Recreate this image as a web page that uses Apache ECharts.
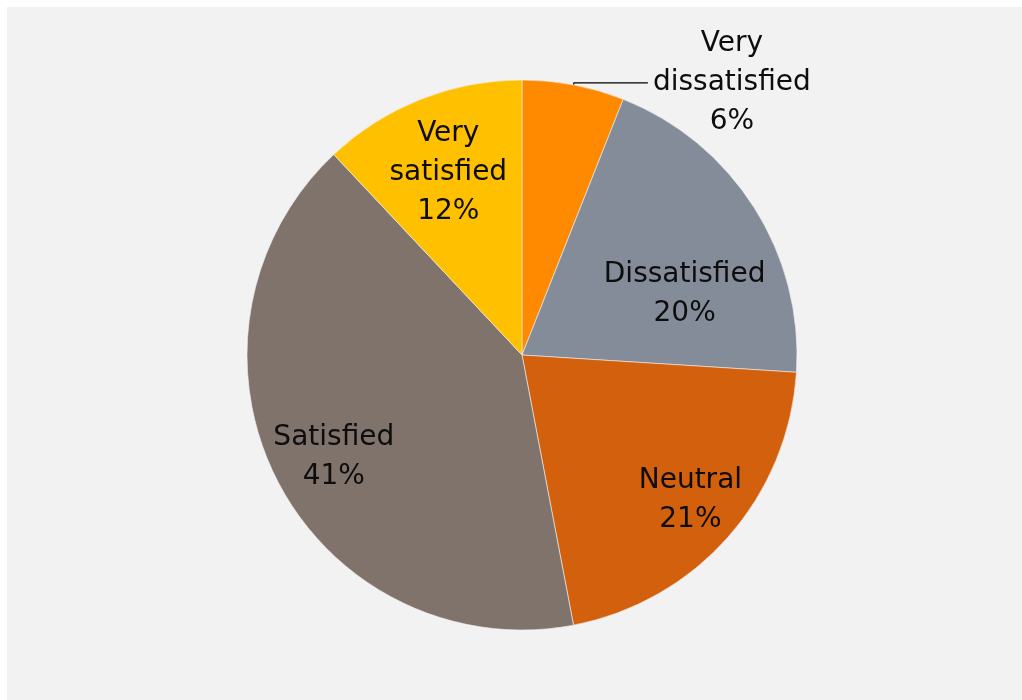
<!DOCTYPE html>
<html>
<head>
<meta charset="utf-8">
<script src="https://cdn.jsdelivr.net/npm/echarts@6/dist/echarts.min.js"></script>
<style>
  html, body { margin: 0; padding: 0; background: #ffffff; }
  #chart { position: absolute; left: 7px; top: 7px; width: 1015px; height: 693px; }
</style>
</head>
<body>
<div id="chart"></div>
<script>
// Survey responses, clockwise from 12 o'clock
const categories = ['Very\ndissatisfied', 'Dissatisfied', 'Neutral', 'Satisfied', 'Very\nsatisfied'];
const shares = [6, 20, 21, 41, 12];
const sliceColors = ['#FF8A00', '#848C9A', '#D2600C', '#80736C', '#FFC000'];

// Nudges for the labels so they sit toward the open part of each slice
const labelNudge = [[82, 0], [44, 15], [63, 52], [-63, 38], [-22, -52]];

const chart = echarts.init(document.getElementById('chart'));

const data = categories.map((name, i) => {
  const item = {
    name: name,
    value: shares[i],
    itemStyle: { color: sliceColors[i] }
  };
  if (i === 0) {
    item.label = { position: 'outside', distanceToLabelLine: 2 };
    item.labelLine = { show: true, length: 2, length2: 74, lineStyle: { color: '#000', width: 1.2 } };
  }
  return item;
});

chart.setOption({
  backgroundColor: '#f2f2f2',
  animation: false,
  series: [{
    type: 'pie',
    center: [515, 348],
    radius: [0, 275],
    startAngle: 90,
    clockwise: true,
    avoidLabelOverlap: false,
    itemStyle: { borderColor: '#f2f2f2', borderWidth: 0.6 },
    label: {
      show: true,
      position: 'inside',
      formatter: p => p.name + '\n' + p.value + '%',
      color: '#0d0d0d',
      fontFamily: 'DejaVu Sans',
      fontSize: 28,
      lineHeight: 39,
      align: 'center'
    },
    labelLine: { show: false },
    labelLayout: function (params) {
      const n = labelNudge[params.dataIndex];
      const out = { dx: n[0], dy: n[1] };
      if (params.dataIndex === 0) out.align = 'center';
      return out;
    },
    data: data
  }]
});
</script>
</body>
</html>
